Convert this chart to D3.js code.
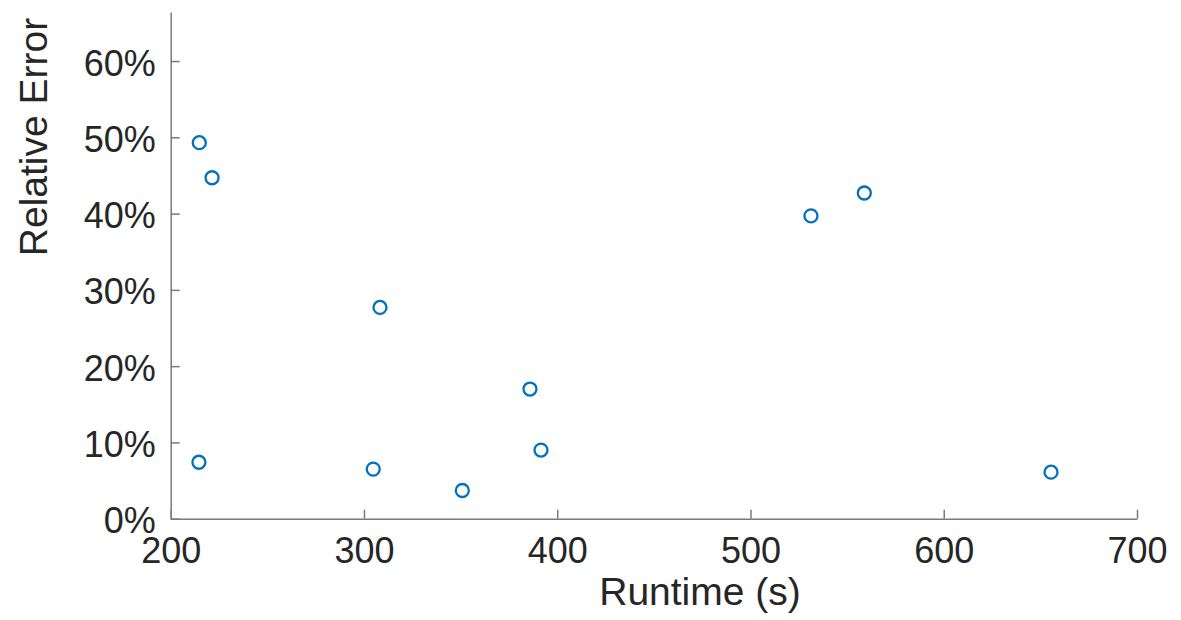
<!doctype html>
<html>
  <head>
    <script src="https://d3js.org/d3.v7.min.js"></script>
    <style>
      body { margin: 0; background: #fff; }
      svg text { font-family: "Liberation Sans", Arial, Helvetica, sans-serif; fill: #262626; }
    </style>
  </head>
  <body>
    <svg id="chart" width="1181" height="620"></svg>

    <script>
      // runtime in seconds, relative error as a fraction
      var runtime = [214.8, 221.4, 214.6, 308.3, 304.8, 350.9, 385.9, 391.6, 531.3, 558.9, 655.5];
      var relErr  = [0.493, 0.447, 0.074, 0.277, 0.065, 0.037, 0.170, 0.090, 0.397, 0.427, 0.061];
      var xTicks = [200, 300, 400, 500, 600, 700];
      var yTicks = [0, 0.1, 0.2, 0.3, 0.4, 0.5, 0.6];

      var points = runtime.map(function(r, i) { return { x: r, y: relErr[i] }; });

      var svg = d3.select("#chart");

      var x = d3.scaleLinear().domain([200, 700]).range([170.7, 1137]);
      var y = d3.scaleLinear().domain([0, 0.6643]).range([518.7, 12]);

      var axisColor = "#7a7a7a";

      var xAxis = svg.append("g")
        .attr("transform", "translate(0,518.7)")
        .call(d3.axisBottom(x).tickValues(xTicks).tickSizeInner(-9).tickSizeOuter(0).tickPadding(19));

      var yAxis = svg.append("g")
        .attr("transform", "translate(170.7,0)")
        .call(d3.axisLeft(y).tickValues(yTicks).tickSizeInner(-9).tickSizeOuter(0).tickPadding(15)
          .tickFormat(d3.format(".0%")));

      [xAxis, yAxis].forEach(function(g) {
        g.select(".domain").attr("stroke", axisColor).attr("stroke-width", 1.5);
        g.selectAll(".tick line").attr("stroke", axisColor).attr("stroke-width", 1.5);
        g.selectAll(".tick text").attr("font-size", 36).attr("fill", "#262626");
      });
      yAxis.selectAll(".tick text").attr("dy", "0.39em");

      // axis titles
      svg.append("text")
        .attr("x", 700)
        .attr("y", 605)
        .attr("text-anchor", "middle")
        .attr("font-size", 39)
        .text("Runtime (s)");

      svg.append("text")
        .attr("transform", "translate(47,137) rotate(-90)")
        .attr("text-anchor", "middle")
        .attr("font-size", 39)
        .text("Relative Error");

      svg.append("g").selectAll("circle")
        .data(points)
        .enter()
        .append("circle")
        .attr("cx", function(d) { return x(d.x); })
        .attr("cy", function(d) { return y(d.y); })
        .attr("r", 6.5)
        .attr("fill", "none")
        .attr("stroke", "#0072BD")
        .attr("stroke-width", 2.3);
    </script>
  </body>
</html>
